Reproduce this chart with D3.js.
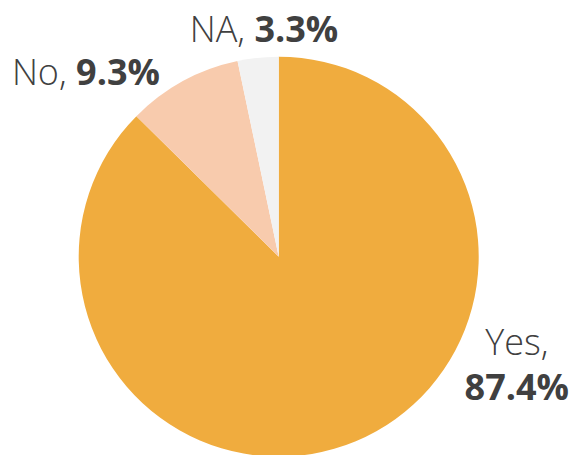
<!DOCTYPE html>
<html>
    <head>
        <meta charset="UTF-8">
        <title>Pie</title>
        <style>
            body { margin: 0; background: #ffffff; }
            text { font-family: "Open Sans", "Lato", sans-serif; fill: #404040; font-weight: 300; }
        </style>
    </head>
    <body>
        <script src="https://cdn.jsdelivr.net/npm/d3@7"></script>
        <script>

            //Chart values.
            var categories = ["Yes", "No", "NA"],
                shares = [87.4, 9.3, 3.3],
                shareLabels = ["87.4%", "9.3%", "3.3%"];
            var colors = ["#F0AC3E", "#F8CBAD", "#F2F2F2"];

            var width = 573, height = 455;
            var cx = 278.7, cy = 256.7, radius = 200;

            var svg = d3.select("body").append("svg")
                        .attr("width", width)
                        .attr("height", height);

            var pie = d3.pie().sort(null).value(function(d) { return d; });
            var arcs = pie(shares);
            var arc = d3.arc().innerRadius(0).outerRadius(radius);

            var g = svg.append("g").attr("transform", "translate(" + cx + "," + cy + ")");

            g.selectAll("path")
             .data(arcs)
             .enter().append("path")
                .attr("d", arc)
                .attr("fill", function(d, i) { return colors[i]; });

            //Label placement, like Excel's "best fit": anchor on the rim, then nudge.
            //[dx, dy] from the rim point at the slice middle to the label baseline centre.
            var labelNudge = [[161, -86], [-97, 4], [6, -16]];
            var fontSize = 36;

            arcs.forEach(function(d, i) {
                var mid = (d.startAngle + d.endAngle) / 2;
                var rx = Math.sin(mid) * radius,
                    ry = -Math.cos(mid) * radius;
                var x = rx + labelNudge[i][0],
                    y = ry + labelNudge[i][1];
                var t = g.append("text")
                         .attr("font-size", fontSize)
                         .attr("text-anchor", "middle")
                         .attr("x", x)
                         .attr("y", y);
                if (i === 0) {
                    //Yes label wraps onto two lines.
                    t.append("tspan").attr("x", x).text(categories[i] + ",");
                    t.append("tspan").attr("x", x).attr("dy", 45)
                     .attr("font-weight", "bold").text(shareLabels[i]);
                } else {
                    t.append("tspan").text(categories[i] + ", ");
                    t.append("tspan").attr("font-weight", "bold").text(shareLabels[i]);
                }
            });

        </script>
    </body>
</html>
